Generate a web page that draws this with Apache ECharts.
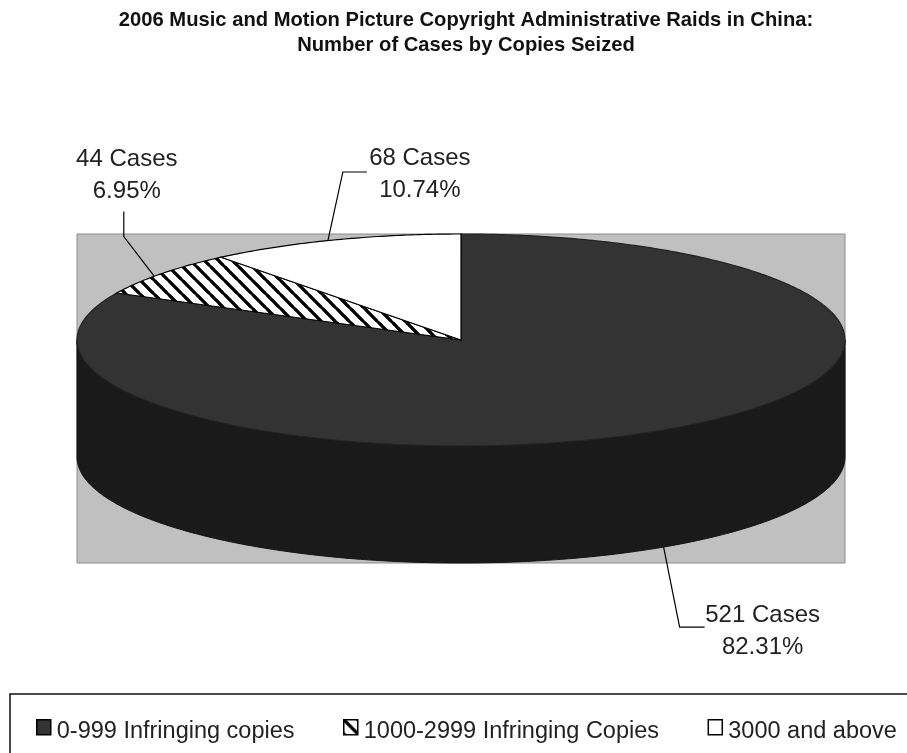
<!DOCTYPE html>
<html><head><meta charset="utf-8">
<style>html,body{margin:0;padding:0;background:#fff}#c{width:907px;height:753px}</style>
<script src="https://cdn.jsdelivr.net/npm/echarts@6/dist/echarts.min.js"></script>
</head><body><div id="c"></div>
<script>
const titleLines = ['2006 Music and Motion Picture Copyright Administrative Raids in China:', 'Number of Cases by Copies Seized'];
const categories = ['0-999 Infringing copies', '1000-2999 Infringing Copies', '3000 and above'];
const cases = [521, 44, 68];
const percentLabels = ['82.31%', '6.95%', '10.74%'];
const depth = 1.104;

function hatch(s, w) {
  const c = document.createElement('canvas');
  c.width = c.height = s;
  const g = c.getContext('2d');
  g.fillStyle = '#fff'; g.fillRect(0, 0, s, s);
  g.strokeStyle = '#000'; g.lineWidth = w; g.lineCap = 'square';
  [[-s, 0, s, 2*s], [0, 0, s, s], [0, -s, 2*s, s], [-s, -s, s, s]].forEach(l => {
    g.beginPath(); g.moveTo(l[0], l[1]); g.lineTo(l[2], l[3]); g.stroke();
  });
  return c;
}
const hatchFill = { image: hatch(14, 3), repeat: 'repeat' };
const fills = ['#333333', hatchFill, '#ffffff'];
const total = cases.reduce((a, b) => a + b, 0);
const TAU = Math.PI * 2;
let acc = 0;
const spans = cases.map(v => { const s = [acc / total * TAU, (acc + v) / total * TAU]; acc += v; return s; });

function pt(a, dy) { return [Math.sin(a), Math.cos(a) - (dy || 0)]; }
function arc(a0, a1, dy) {
  const out = [], n = Math.max(2, Math.ceil(Math.abs(a1 - a0) / 0.01));
  for (let i = 0; i <= n; i++) out.push(pt(a0 + (a1 - a0) * i / n, dy));
  return out;
}

// leader line path and label centre, as pixel offsets from the slice anchor
const leaders = [
  { path: [[0, 0], [16, 80], [41, 80]], text: [99, 68], lh: 32 },
  { path: [[-8, 2], [-38, -37], [-38, -62]], text: [-35, -114], lh: 32 },
  { path: [[-6, 1], [9, -68], [33, -68]], text: [86, -82], lh: 32 }
];

function renderSlice(params, api) {
  const i = params.seriesIndex, children = [];
  const toPx = p => api.coord(p);
  if (i === 0) {
    const side = arc(Math.PI / 2, Math.PI * 1.5).concat(arc(Math.PI * 1.5, Math.PI / 2, depth));
    children.push({ type: 'polygon', shape: { points: side.map(toPx) }, style: { fill: '#1a1a1a', stroke: '#111', lineWidth: 1 } });
  }
  const sp = spans[i];
  const poly = [[0, 0]].concat(arc(sp[0], sp[1])).map(toPx);
  children.push({ type: 'polygon', shape: { points: poly },
    style: { fill: fills[i], stroke: i === 0 ? '#222' : '#000', lineWidth: 1.2 } });

  const mid = (sp[0] + sp[1]) / 2;
  const isFront = Math.cos(mid) < 0;
  const anchor = toPx(pt(mid, isFront ? depth : 0));
  const L = leaders[i];
  const line = L.path.map(o => [anchor[0] + o[0], anchor[1] + o[1]]);
  children.push({ type: 'polyline', shape: { points: line }, style: { stroke: '#000', lineWidth: 1.2, fill: null }, z2: 5 });
  const cx = anchor[0] + L.text[0], cy = anchor[1] + L.text[1];
  [cases[i] + ' Cases', percentLabels[i]].forEach((t, k) => {
    children.push({ type: 'text', z2: 6, style: { text: t, x: cx, y: cy + k * L.lh, align: 'center', verticalAlign: 'middle',
      fill: '#222', font: '24px "Liberation Sans", sans-serif' } });
  });
  return { type: 'group', children };
}

const legendIcon = 'path://M0 0L14 0L14 15L0 15Z M0 24L0 24';
const chart = echarts.init(document.getElementById('c'), null, { renderer: 'canvas' });
chart.setOption({
  animation: false,
  backgroundColor: '#fff',
  title: {
    text: titleLines.join('\n'), left: 466, top: 8, textAlign: 'center', padding: 0,
    textStyle: { fontFamily: '"Liberation Sans"', fontSize: 20.2, fontWeight: 'bold', color: '#111', lineHeight: 25 }
  },
  grid: { show: true, left: 77, top: 234, width: 768, height: 329, backgroundColor: '#c0c0c0', borderColor: '#8c8c8c', borderWidth: 1 },
  xAxis: { type: 'value', min: -1, max: 1, show: false },
  yAxis: { type: 'value', min: -1 - depth, max: 1, show: false },
  legend: {
    left: 36, top: 719, padding: 0, itemWidth: 14, itemHeight: 24, itemGap: 48.5,
    textStyle: { fontFamily: '"Liberation Sans"', fontSize: 23.5, color: '#222', padding: [0, 0, 0, 1] },
    data: categories.map((c, i) => ({ name: c, icon: legendIcon, itemStyle: { color: fills[i], borderColor: '#000', borderWidth: 1.5 } }))
  },
  graphic: [{ type: 'rect', shape: { x: 10, y: 694, width: 930, height: 90 }, style: { fill: 'none', stroke: '#111', lineWidth: 1.5 }, silent: true }],
  series: categories.map((c, i) => ({
    type: 'custom', name: c, coordinateSystem: 'cartesian2d', clip: false,
    renderItem: renderSlice, data: [[cases[i]]], encode: { x: 0 }, silent: true, z: 2 + i,
    itemStyle: { color: i === 1 ? '#000' : fills[i] }
  }))
});
</script></body></html>
